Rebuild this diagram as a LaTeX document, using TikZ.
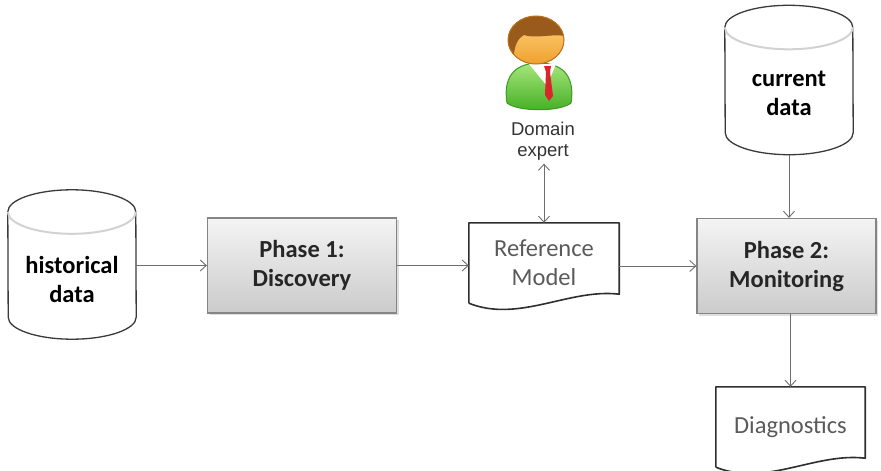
\documentclass[tikz,border=0pt]{standalone}
\usepackage{fontspec}
\setmainfont{Carlito}
\newfontfamily\arialfont{Liberation Sans}
\usetikzlibrary{arrows.meta,shadows}

\definecolor{boxline}{HTML}{858585}
\definecolor{boxtop}{HTML}{F4F4F4}
\definecolor{boxbot}{HTML}{CBCBCB}
\definecolor{phasetext}{HTML}{262626}
\definecolor{doctext}{HTML}{5A5A5A}
\definecolor{docedge}{HTML}{2E2E2E}
\definecolor{cyledge}{HTML}{3A3A3A}
\definecolor{flowgray}{HTML}{6E6E6E}
\definecolor{facelight}{HTML}{FDD683}
\definecolor{facedark}{HTML}{F0A02E}
\definecolor{faceedge}{HTML}{B8741A}
\definecolor{hair}{HTML}{9A5A1C}
\definecolor{suitlight}{HTML}{A6E67C}
\definecolor{suitdark}{HTML}{42AE22}
\definecolor{suitedge}{HTML}{3C9A22}
\definecolor{tie}{HTML}{D8262A}

\newcommand\phasesize{\fontsize{24.5}{29}\selectfont}

\tikzset{
  phase/.style={draw=boxline, line width=1.2pt, top color=boxtop, bottom color=boxbot,
    minimum height=95pt, align=center, font=\phasesize\bfseries, text=phasetext,
    drop shadow={opacity=0.25, shadow xshift=2pt, shadow yshift=-2pt}},
  doc/.style={minimum width=150pt, minimum height=80pt, align=center,
    font=\phasesize, text=doctext},
  cyl/.style={minimum width=128pt, minimum height=149pt, inner sep=0pt},
  cyltext/.style={align=center, font=\phasesize\bfseries, text=black},
  docline/.style={draw=docedge, line width=1.6pt, line join=round},
  cylline/.style={draw=cyledge, line width=1.3pt},
  flow/.style={draw=flowgray, line width=0.9pt, -{Straight Barb[length=6pt,width=11pt]}},
}

% outline of a data store around a cylinder node
\newcommand\dbdraw[1]{%
  \draw[cylline, fill=white] ([yshift=-22pt]#1.north west)
    arc[start angle=180, end angle=0, x radius=64pt, y radius=22pt]
    -- ([yshift=22pt]#1.south east)
    arc[start angle=0, end angle=-180, x radius=64pt, y radius=22pt] -- cycle;
  \draw[gray!35, line width=2pt] ([yshift=-22pt]#1.north west)
    arc[start angle=180, end angle=360, x radius=64pt, y radius=22pt];
}

% outline of a document with a wavy lower edge
\newcommand\docdraw[1]{%
  \draw[docline] (#1.south west) -- (#1.north west) -- (#1.north east)
    -- ([yshift=9pt]#1.south east)
    .. controls +(-50,-6) and +(50,20) .. (#1.south west);
}

\begin{document}
\begin{tikzpicture}[x=1pt, y=-1pt]
  \useasboundingbox (0,0) rectangle (881,471);

  % data stores
  \node[cyl] (hist) at (72,264.5) {};
  \dbdraw{hist}
  \node[cyltext] (histtext) at (72,279) {historical\\data};

  \node[cyl] (cur) at (789,80) {};
  \dbdraw{cur}
  \node[cyltext] (curtext) at (789,93) {current\\data};

  % the two phases
  \node[phase, minimum width=189pt] (p1) at (302,265.5) {Phase 1:\\Discovery};
  \node[phase, minimum width=179pt] (p2) at (786.5,266) {Phase 2:\\Monitoring};

  % documents
  \node[doc] (ref) at (544,263) {Reference\\Model};
  \docdraw{ref}
  \node[doc, minimum width=149pt] (diag) at (790.5,427) {Diagnostics};
  \docdraw{diag}

  % domain expert
  \begin{scope}
    \draw[suitedge, line width=1pt, top color=suitlight, bottom color=suitdark]
      (507,103) .. controls (502,72) and (520,63) .. (539,63)
      .. controls (558,63) and (576,72) .. (571,103)
      .. controls (560,112) and (518,112) .. cycle;
    \fill[white] (529,64) -- (556,64) -- (547,86) -- cycle;
    \fill[tie] (544,66) -- (551,66) -- (550,72) -- (553,96) -- (549,101)
      -- (545,95) -- (546,72) -- cycle;
    \fill[top color=facelight, bottom color=facedark] (536,40) ellipse[x radius=28, y radius=24];
    \begin{scope}
      \clip (536,40) ellipse[x radius=28, y radius=24];
      \fill[hair] (500,10) -- (575,10) -- (575,40)
        .. controls (560,30) and (540,40) .. (524,35)
        .. controls (515,40) and (514,50) .. (513,64) -- (500,64) -- cycle;
    \end{scope}
    \draw[faceedge, line width=1pt] (536,40) ellipse[x radius=28, y radius=24];
  \end{scope}
  \node[font=\arialfont\fontsize{18.5}{21}\selectfont, text=black!80, align=center]
    (expert) at (543,141) {Domain\\expert};

  % connections
  \draw[flow] (hist.east |- p1.west) -- (p1.west);
  \draw[flow] (p1.east) -- (p1.east -| ref.west);
  \draw[flow] (ref.east |- p2.west) -- (p2.west);
  \draw[flow, {Straight Barb[length=6pt,width=11pt]}-{Straight Barb[length=6pt,width=11pt]}]
    (ref.north |- expert.south) -- (ref.north);
  \draw[flow] (cur.south) -- (cur.south |- p2.north);
  \draw[flow] (p2.south -| diag.north) -- (diag.north);
\end{tikzpicture}
\end{document}
